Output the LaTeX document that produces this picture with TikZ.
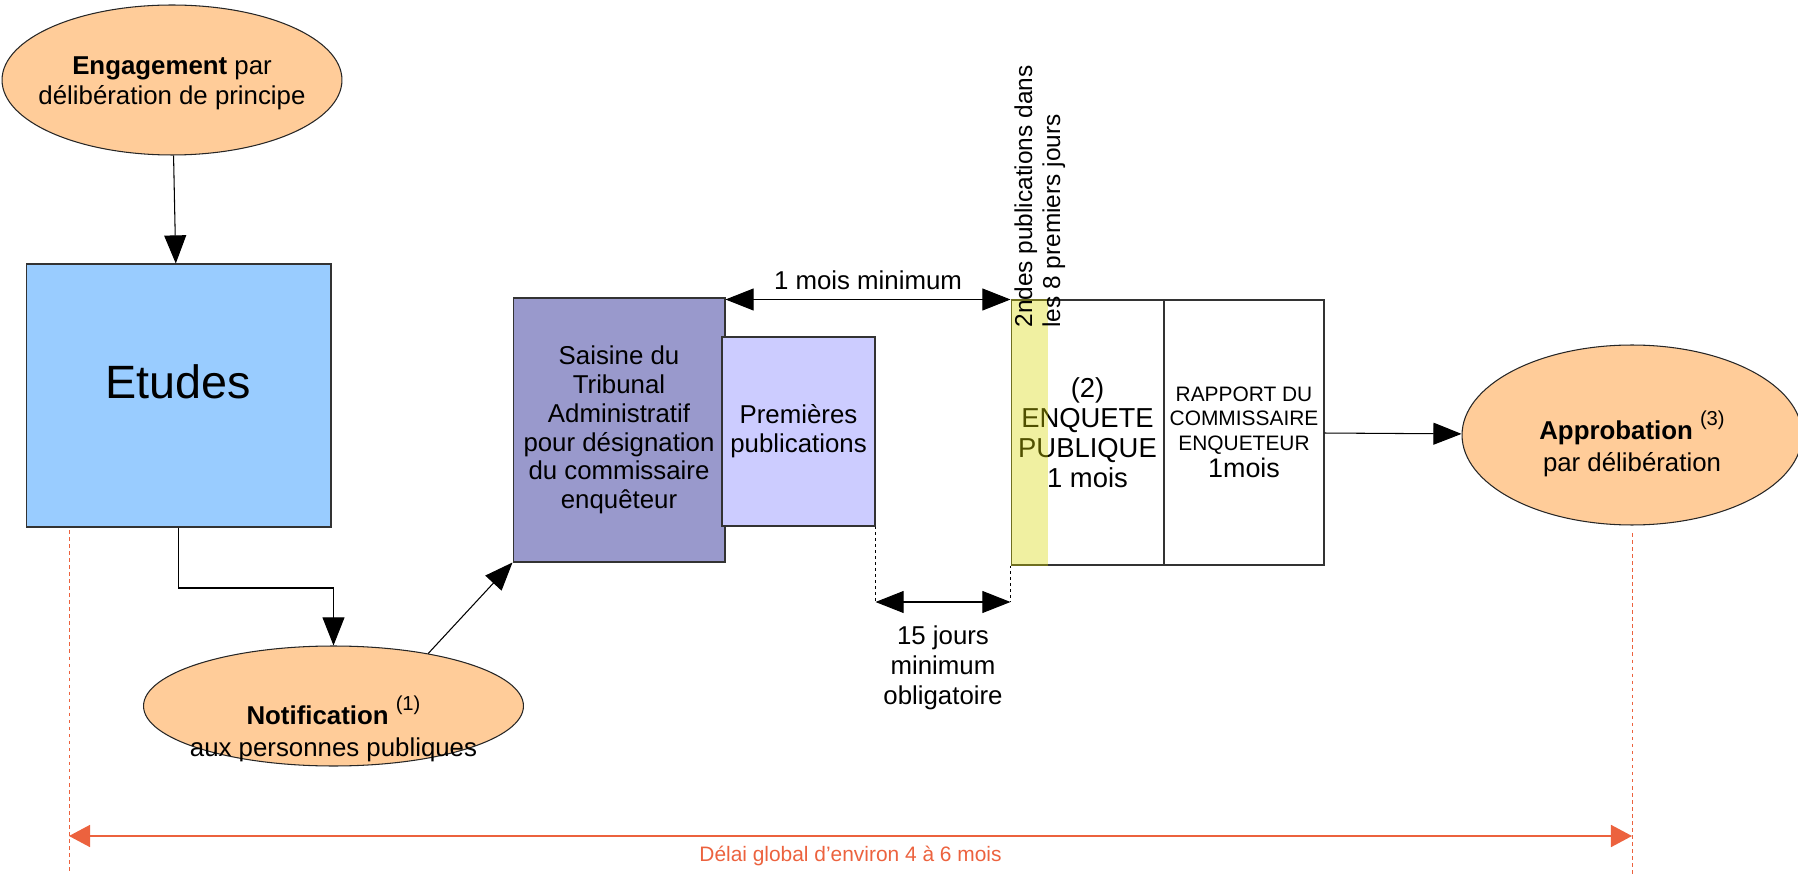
\documentclass[tikz,border=0pt]{standalone}
\usepackage{fontspec}
\setmainfont{Liberation Sans}
\usetikzlibrary{arrows.meta,shapes.geometric}
\definecolor{peach}{RGB}{255,204,153}
\definecolor{etudesblue}{RGB}{153,204,255}
\definecolor{saisine}{RGB}{153,153,204}
\definecolor{premieres}{RGB}{204,204,255}
\definecolor{surligne}{RGB}{216,216,0}
\definecolor{delai}{RGB}{236,98,62}
\newcommand\fsz[2]{\fontsize{#1}{#2}\selectfont}
\newcommand\renvoi[1]{\raisebox{8pt}{\fsz{11.5}{12}(#1)}}

\begin{document}
\begin{tikzpicture}[->,>={Triangle[length=16pt,width=12.5pt]},x=0.02cm,y=-0.02cm,line width=0.6pt,
  oval/.style={ellipse,draw=black!85,fill=peach,inner sep=0pt},
  box/.style={rectangle,draw=black!80,inner sep=1pt,align=center,font=\fsz{14.7}{16.4}},
  txt/.style={align=center,font=\fsz{14.7}{17}},
  every label/.style={txt},
  tirets/.style={-,dash pattern=on 1.7pt off 1.7pt},
  rouge/.style={-,draw=delai,line width=0.5pt,dash pattern=on 2pt off 2pt}]
  \useasboundingbox (0,0) rectangle (1798,874);
  \node (1) [oval,minimum width=6.8cm,minimum height=3cm,
    label={[yshift=-2pt]center:{\textbf{Engagement} par\\délibération de principe}}] at (172,80) {};
  \node (2) [box,fill=etudesblue,minimum width=6.1cm,minimum height=5.26cm,
    label={[font=\fsz{26.6}{30},yshift=8pt]center:Etudes}] at (178.5,395.5) {};
  \node (3) [oval,minimum width=7.6cm,minimum height=2.4cm,
    label={[yshift=-13pt]center:{\textbf{Notification} \renvoi{1}\\[1pt]aux personnes publiques}}] at (333.5,706) {};
  \node (4) [box,fill=saisine,minimum width=4.24cm,minimum height=5.28cm] at (619,430)
    {Saisine du\\Tribunal\\Administratif\\pour désignation\\du commissaire\\enquêteur};
  \node (5) [box,fill=premieres,minimum width=3.06cm,minimum height=3.78cm] at (798.5,431.5)
    {Premières\\publications};
  \node (6) [box,fill=white,minimum width=3.06cm,minimum height=5.3cm,font=\fsz{15.6}{17}] at (1087.5,432.5)
    {(2)\\ENQUETE\\PUBLIQUE\\1 mois};
  \node (7) [box,fill=white,minimum width=3.2cm,minimum height=5.3cm,font=\fsz{11.9}{13.8}] at (1244,432.5)
    {RAPPORT DU\\COMMISSAIRE\\ENQUETEUR\\[2pt]{\fsz{15.3}{17}1mois}};
  \fill[surligne,fill opacity=0.37] (6.north west) rectangle ([xshift=0.76cm]6.south west);
  \node (8) [oval,minimum width=6.8cm,minimum height=3.6cm,
    label={[yshift=-5pt]center:{\textbf{Approbation} \renvoi{3}\\[1pt]par délibération}}] at (1632,435) {};
  \node (9) [txt,font=\fsz{13.9}{15.9},align=left,rotate=90,anchor=north west,inner sep=0pt] at (1014,328)
    {2ndes publications dans\\les 8 premiers jours};

  \coordinate (c1) at (0,588);
  \coordinate (c2) at (0,602);
  \path (1) edge (2);
  \draw (2) -- (2 |- c1) -| (3);
  \path (3.29) edge (4.south west);
  \path (7) edge (8);

  \draw[<->] (4.north east |- 6.north west) -- node[above,txt,yshift=2pt] {1 mois minimum} (6.north west);
  \draw[tirets] (5.south east) -- (5.south east |- c2);
  \draw[tirets] (6.south west) -- (6.south west |- c2);
  \draw[<->] (5.south east |- c2) -- node[below,txt,yshift=-10pt] {15 jours\\minimum\\obligatoire} (6.south west |- c2);

  \coordinate (g1) at (69,530);
  \coordinate (g2) at (69,874);
  \coordinate (d1) at (1632,533);
  \coordinate (d2) at (1632,874);
  \coordinate (g3) at (69,836);
  \coordinate (d3) at (1632,836);
  \draw[rouge] (g1) -- (g2);
  \draw[rouge] (d1) -- (d2);
  \draw[delai,line width=1.1pt,{Triangle[length=12pt,width=12.5pt]}-{Triangle[length=12pt,width=12.5pt]}] (g3) --
    node[below,font=\fsz{11.9}{14},text=delai,yshift=-2pt] {Délai global d'environ 4 à 6 mois} (d3);
\end{tikzpicture}
\end{document}
